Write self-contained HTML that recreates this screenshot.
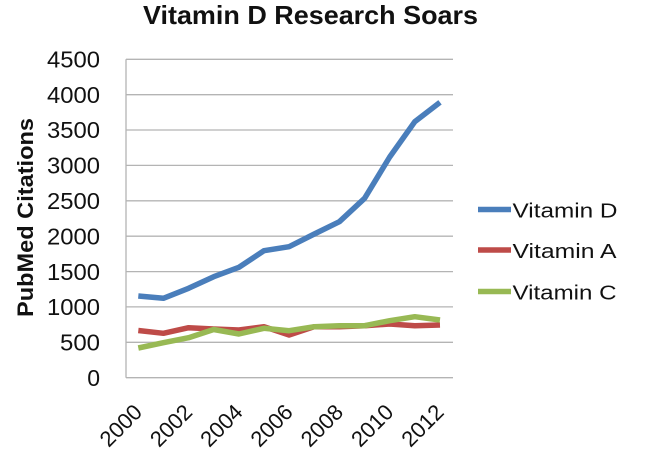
<!DOCTYPE html>
<html>
<head>
<meta charset="utf-8">
<style>
html,body{margin:0;padding:0;background:#fff;}
svg{display:block;}
text{font-family:"Liberation Sans",Arial,sans-serif;fill:#111;}
</style>
</head>
<body>
<svg width="647" height="459" viewBox="0 0 647 459" xmlns="http://www.w3.org/2000/svg">
  <rect width="647" height="459" fill="#fff"/>
  <!-- Title -->
  <text x="310.5" y="24" font-size="26" font-weight="bold" text-anchor="middle" textLength="335" lengthAdjust="spacingAndGlyphs">Vitamin D Research Soars</text>

  <!-- Gridlines -->
  <g stroke="#b4b4b4" stroke-width="1.3">
    <line x1="126" y1="59.3" x2="453" y2="59.3"/>
    <line x1="126" y1="94.7" x2="453" y2="94.7"/>
    <line x1="126" y1="130" x2="453" y2="130"/>
    <line x1="126" y1="165.4" x2="453" y2="165.4"/>
    <line x1="126" y1="200.8" x2="453" y2="200.8"/>
    <line x1="126" y1="236.2" x2="453" y2="236.2"/>
    <line x1="126" y1="271.6" x2="453" y2="271.6"/>
    <line x1="126" y1="306.9" x2="453" y2="306.9"/>
    <line x1="126" y1="342.3" x2="453" y2="342.3"/>
    <line x1="126" y1="377.7" x2="453" y2="377.7"/>
    <line x1="126" y1="59.3" x2="126" y2="377.7"/>
  </g>

  <!-- Y labels -->
  <g font-size="23" text-anchor="end">
    <text x="100" y="67.5" textLength="53" lengthAdjust="spacingAndGlyphs">4500</text>
    <text x="100" y="102.9" textLength="53" lengthAdjust="spacingAndGlyphs">4000</text>
    <text x="100" y="138.2" textLength="53" lengthAdjust="spacingAndGlyphs">3500</text>
    <text x="100" y="173.6" textLength="53" lengthAdjust="spacingAndGlyphs">3000</text>
    <text x="100" y="209" textLength="53" lengthAdjust="spacingAndGlyphs">2500</text>
    <text x="100" y="244.4" textLength="53" lengthAdjust="spacingAndGlyphs">2000</text>
    <text x="100" y="279.8" textLength="53" lengthAdjust="spacingAndGlyphs">1500</text>
    <text x="100" y="315.1" textLength="53" lengthAdjust="spacingAndGlyphs">1000</text>
    <text x="100" y="350.5" textLength="40" lengthAdjust="spacingAndGlyphs">500</text>
    <text x="100" y="385.9">0</text>
  </g>

  <!-- Y axis title -->
  <text transform="translate(33,217.5) rotate(-90)" font-size="22" font-weight="bold" text-anchor="middle" textLength="199" lengthAdjust="spacingAndGlyphs">PubMed Citations</text>

  <!-- X labels -->
  <g font-size="22" text-anchor="middle" dominant-baseline="central">
    <text transform="translate(120.8,425.5) rotate(-45)">2000</text>
    <text transform="translate(171.1,425.5) rotate(-45)">2002</text>
    <text transform="translate(221.4,425.5) rotate(-45)">2004</text>
    <text transform="translate(271.6,425.5) rotate(-45)">2006</text>
    <text transform="translate(321.9,425.5) rotate(-45)">2008</text>
    <text transform="translate(372.2,425.5) rotate(-45)">2010</text>
    <text transform="translate(422.5,425.5) rotate(-45)">2012</text>
  </g>

  <!-- Series -->
  <g fill="none" stroke-width="5.5" stroke-linejoin="round" stroke-linecap="butt">
    <polyline stroke="#4a7ebb" points="138.3,296 163.4,298.3 188.6,288.3 213.7,276.7 238.9,267.3 264,250.7 289.1,246.7 314.3,234 339.4,221.7 364.6,198.3 389.7,157 414.8,121.7 440,102.3"/>
    <polyline stroke="#be4b48" points="138.3,330.5 163.4,333.3 188.6,327.7 213.7,329 238.9,330 264,326.7 289.1,335 314.3,326.7 339.4,326.7 364.6,325.7 389.7,324 414.8,325.7 440,325"/>
    <polyline stroke="#98b954" points="138.3,348 163.4,342.7 188.6,337.7 213.7,329.5 238.9,334 264,328.3 289.1,330.7 314.3,326.7 339.4,325.7 364.6,325.7 389.7,320.7 414.8,316.7 440,320"/>
  </g>

  <!-- Legend -->
  <g stroke-width="5.5">
    <line x1="478" y1="209.5" x2="511" y2="209.5" stroke="#4a7ebb"/>
    <line x1="478" y1="250" x2="511" y2="250" stroke="#be4b48"/>
    <line x1="478" y1="291.5" x2="511" y2="291.5" stroke="#98b954"/>
  </g>
  <g font-size="20">
    <text x="512.5" y="217.3" textLength="105" lengthAdjust="spacingAndGlyphs">Vitamin D</text>
    <text x="512.5" y="258" textLength="104" lengthAdjust="spacingAndGlyphs">Vitamin A</text>
    <text x="512.5" y="299.5" textLength="104" lengthAdjust="spacingAndGlyphs">Vitamin C</text>
  </g>
</svg>
</body>
</html>
